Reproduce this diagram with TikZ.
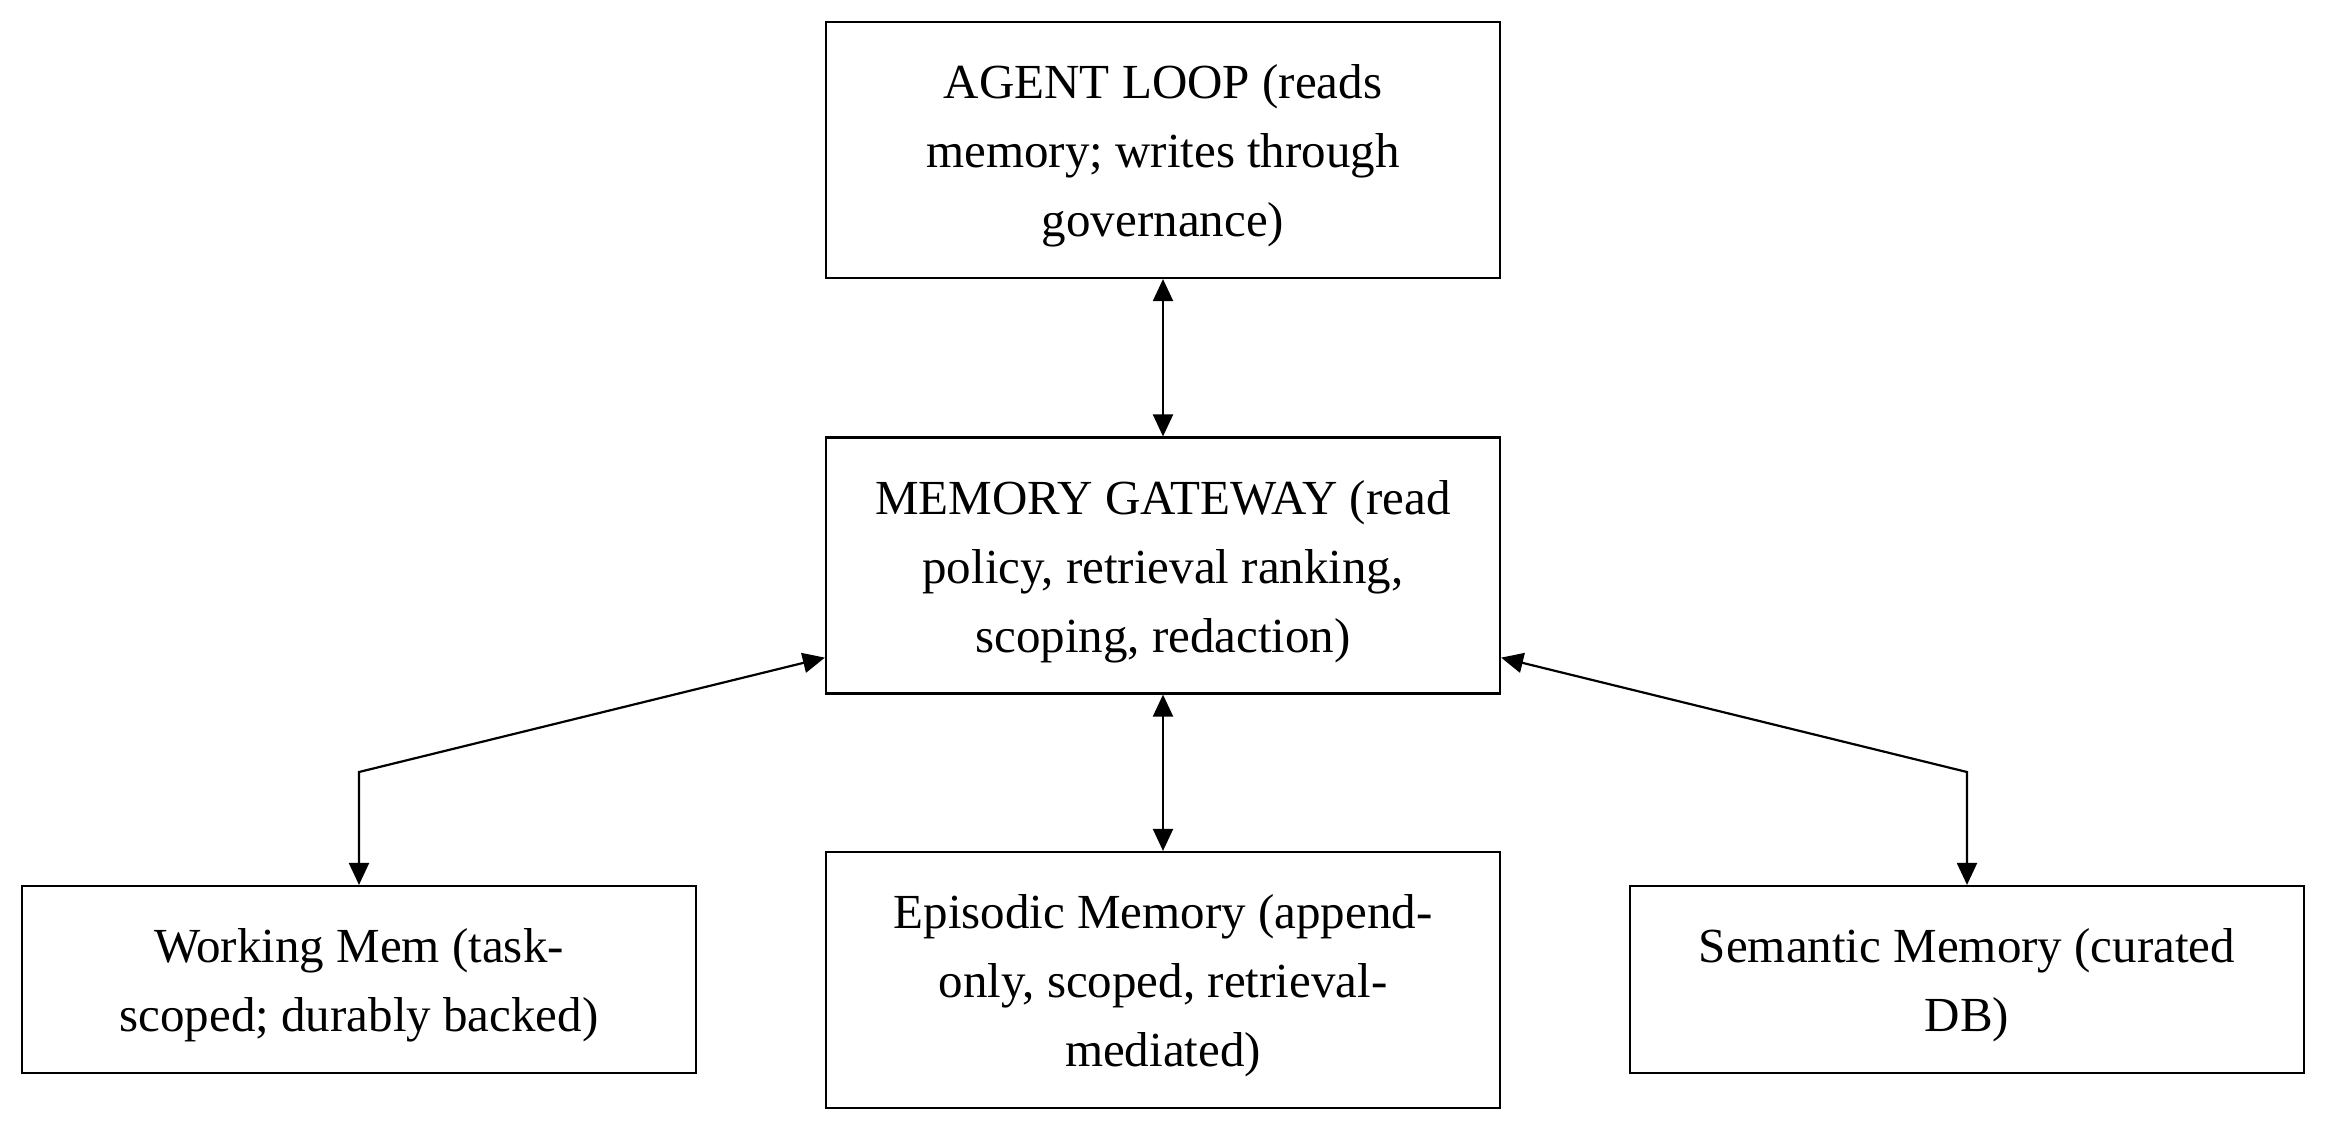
\documentclass[tikz,border=0pt]{standalone}
\usepackage{fontspec}
\setmainfont{Liberation Serif}
\usetikzlibrary{arrows.meta}
\begin{document}
\begin{tikzpicture}[x=0.5pt,y=-0.5pt,
  box/.style={draw, line width=1.1pt, minimum width=337pt, align=center, inner sep=0pt,
    font=\fontsize{24.5}{34.5}\selectfont},
  tall/.style={box, minimum height=128pt},
  short/.style={box, minimum height=93.5pt},
  link/.style={line width=1.1pt, {Triangle[length=11pt,width=10pt]}-{Triangle[length=11pt,width=10pt]}}]
\useasboundingbox (0,0) rectangle (2352,1146);
\node[tall] (agent) at (1163,150) {};
\node[tall] (gate) at (1163,565.5) {};
\node[tall] (epi) at (1163,980) {};
\node[short] (work) at (359,979.5) {};
\node[short] (sem) at (1967,979.5) {};
\node[box, draw=none] (agentt) at ([yshift=-3pt]agent.center) {AGENT LOOP (reads\\memory; writes through\\governance)};
\node[box, draw=none] (gatet) at ([yshift=-3pt]gate.center) {MEMORY GATEWAY (read\\policy, retrieval ranking,\\scoping, redaction)};
\node[box, draw=none] (epit) at ([yshift=-3pt]epi.center) {Episodic Memory (append-\\only, scoped, retrieval-\\mediated)};
\node[box, draw=none] (workt) at ([yshift=-3pt]work.center) {Working Mem (task-\\scoped; durably backed)};
\node[box, draw=none] (semt) at ([yshift=-3pt]sem.center) {Semantic Memory (curated\\DB)};
\coordinate (gl) at ([yshift=18.5pt]gate.south west);
\coordinate (gr) at ([yshift=18.5pt]gate.south east);
\coordinate (el) at (359,772);
\coordinate (er) at (1967,772);
\draw[link] (agent.south) -- (gate.north);
\draw[link] (gate.south) -- (epi.north);
\draw[link] (gl) -- (el) -- (work.north);
\draw[link] (gr) -- (er) -- (sem.north);
\end{tikzpicture}
\end{document}
